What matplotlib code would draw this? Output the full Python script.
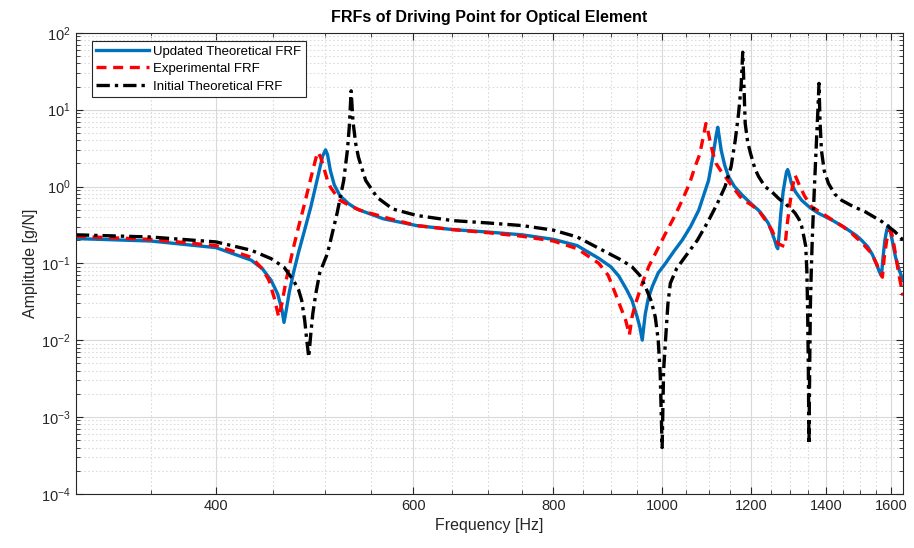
import numpy as np
import matplotlib.pyplot as plt
from matplotlib.ticker import FixedLocator, NullFormatter, LogLocator

plt.rcParams['font.family'] = ['Liberation Sans', 'DejaVu Sans']

# Updated theoretical FRF (frequency [Hz], amplitude [g/N])
upd_freq = [300, 350, 400, 430, 440, 448, 454, 458, 460, 462, 465, 469, 474, 479, 486,
            493, 498, 501, 503, 506, 510, 516, 525, 534, 564, 604, 650, 700, 750, 800,
            840, 878, 900, 915, 930, 940, 950, 955, 960, 963, 966, 972, 980, 992, 1007,
            1025, 1042, 1060, 1078, 1090, 1100, 1107, 1112, 1117, 1121, 1124, 1129, 1137,
            1146, 1160, 1178, 1200, 1219, 1233, 1244, 1252, 1260, 1265, 1268, 1271, 1276,
            1282, 1287, 1291, 1294, 1298, 1304, 1315, 1332, 1355, 1378, 1420, 1456, 1490,
            1506, 1525, 1540, 1552, 1562, 1569, 1574, 1580, 1586, 1591, 1597, 1605, 1615,
            1628, 1640]
upd_amp = [0.21, 0.195, 0.16, 0.11, 0.085, 0.06, 0.04, 0.025, 0.017, 0.024, 0.042,
           0.075, 0.14, 0.245, 0.54, 1.32, 2.5, 3.0, 2.6, 1.6, 1.05, 0.76, 0.6, 0.51,
           0.38, 0.31, 0.275, 0.255, 0.235, 0.205, 0.17, 0.116, 0.09, 0.068, 0.045,
           0.033, 0.02, 0.015, 0.010, 0.015, 0.022, 0.035, 0.050, 0.075, 0.10, 0.145,
           0.20, 0.30, 0.49, 0.8, 1.2, 2.0, 2.95, 4.5, 5.9, 4.6, 2.95, 1.9, 1.35, 1.0,
           0.78, 0.6, 0.49, 0.4, 0.33, 0.26, 0.20, 0.165, 0.155, 0.22, 0.45, 0.85, 1.2,
           1.55, 1.66, 1.45, 1.1, 0.85, 0.66, 0.53, 0.45, 0.36, 0.29, 0.23, 0.20, 0.165,
           0.13, 0.10, 0.078, 0.069, 0.12, 0.2, 0.27, 0.31, 0.27, 0.19, 0.12, 0.08, 0.06]

# Experimental FRF
exp_freq = [300, 350, 400, 430, 440, 446, 451, 455, 458, 462, 469, 474, 479, 484, 488,
            491, 493, 496, 499, 503, 506, 511, 516, 527, 538, 555, 572, 604, 650, 700,
            750, 800, 840, 878, 895, 908, 920, 928, 935, 940, 947, 960, 973, 990, 1007,
            1025, 1042, 1058, 1070, 1080, 1085, 1090, 1094, 1098, 1103, 1110, 1117, 1128,
            1138, 1158, 1178, 1200, 1219, 1237, 1253, 1262, 1269, 1280, 1287, 1292, 1299,
            1306, 1314, 1320, 1327, 1340, 1358, 1385, 1417, 1450, 1476, 1510, 1537, 1555,
            1565, 1572, 1578, 1586, 1593, 1600, 1607, 1615, 1625, 1640]
exp_amp = [0.225, 0.205, 0.17, 0.12, 0.085, 0.06, 0.035, 0.02, 0.03, 0.06, 0.16, 0.3,
           0.54, 1.0, 1.62, 2.3, 2.8, 2.4, 1.78, 1.2, 0.98, 0.8, 0.66, 0.56, 0.49, 0.43,
           0.38, 0.31, 0.275, 0.25, 0.225, 0.195, 0.155, 0.10, 0.07, 0.041, 0.025, 0.018,
           0.0117, 0.02, 0.030, 0.055, 0.091, 0.15, 0.245, 0.4, 0.66, 1.1, 1.82, 2.6,
           3.6, 5.0, 6.6, 5.5, 4.0, 2.7, 2.0, 1.6, 1.35, 0.95, 0.69, 0.58, 0.49, 0.36,
           0.27, 0.21, 0.18, 0.17, 0.165, 0.3, 0.55, 0.95, 1.4, 1.2, 1.0, 0.75, 0.55,
           0.46, 0.37, 0.3, 0.245, 0.18, 0.135, 0.095, 0.075, 0.066, 0.12, 0.2, 0.26,
           0.27, 0.2, 0.13, 0.075, 0.038]

# Initial theoretical FRF
ini_freq = [300, 350, 400, 430, 448, 460, 469, 474, 477, 480, 482, 484, 486, 488, 491,
            495, 503, 513, 520, 524, 526, 528, 530, 533, 536, 544, 557, 575, 604, 650,
            700, 750, 800, 840, 878, 900, 920, 940, 955, 966, 978, 986, 992, 996, 1000,
            1003, 1007, 1012, 1017, 1030, 1049, 1075, 1100, 1120, 1138, 1152, 1162, 1170,
            1176, 1180, 1183, 1186, 1192, 1199, 1210, 1219, 1235, 1253, 1270, 1287, 1300,
            1314, 1325, 1332, 1338, 1343, 1346, 1348, 1350, 1352, 1354, 1356, 1358, 1361,
            1364, 1368, 1373, 1377, 1380, 1383, 1387, 1395, 1407, 1425, 1446, 1480, 1517,
            1570, 1612, 1640]
ini_amp = [0.235, 0.22, 0.19, 0.148, 0.115, 0.089, 0.060, 0.045, 0.033, 0.018, 0.010,
           0.006, 0.012, 0.022, 0.04, 0.075, 0.135, 0.45, 1.2, 3.0, 6.0, 17.6, 7.0, 3.6,
           2.4, 1.2, 0.72, 0.51, 0.42, 0.36, 0.335, 0.31, 0.27, 0.22, 0.157, 0.13, 0.11,
           0.09, 0.07, 0.05, 0.032, 0.02, 0.01, 0.0037, 0.0004, 0.004, 0.01, 0.03, 0.055,
           0.085, 0.123, 0.2, 0.36, 0.6, 1.0, 1.8, 4.0, 9.0, 20.0, 56.0, 20.0, 6.6, 3.8,
           2.7, 1.7, 1.35, 1.0, 0.85, 0.7, 0.6, 0.53, 0.45, 0.37, 0.30, 0.22, 0.166,
           0.08, 0.028, 0.005, 0.00044, 0.005, 0.03, 0.07, 0.2, 0.45, 1.2, 4.0, 10.0,
           22.0, 7.0, 2.95, 1.6, 1.1, 0.8, 0.66, 0.55, 0.47, 0.35, 0.26, 0.20]

major_ticks = [400, 600, 800, 1000, 1200, 1400, 1600]

fig = plt.figure(figsize=(9.14, 5.48), dpi=100)
ax = fig.add_axes([0.083, 0.099, 0.905, 0.841])

ax.plot(upd_freq, upd_amp, color='#0072BD', lw=2.4, label='Updated Theoretical FRF')
ax.plot(exp_freq, exp_amp, color='#FF0000', lw=2.4, ls=(0, (3, 2)), label='Experimental FRF')
ax.plot(ini_freq, ini_amp, color='black', lw=2.4, ls=(0, (4, 1.5, 1, 1.5)),
        label='Initial Theoretical FRF')

ax.set_xscale('log')
ax.set_yscale('log')
ax.set_xlim(300, 1640)
ax.set_ylim(1e-4, 1e2)

ax.set_xticks(major_ticks, [str(t) for t in major_ticks])
ax.xaxis.set_minor_locator(FixedLocator(np.arange(300, 1650, 50)))
ax.xaxis.set_minor_formatter(NullFormatter())
ax.yaxis.set_major_locator(LogLocator(base=10, numticks=10))
ax.yaxis.set_minor_locator(LogLocator(base=10, subs=np.arange(2, 10), numticks=20))
ax.yaxis.set_minor_formatter(NullFormatter())

ax.grid(True, which='major', color='#d9d9d9', lw=0.8, ls='-')
ax.grid(True, which='minor', color='#dcdcdc', lw=0.8, ls=(0, (1.5, 2)))
ax.set_axisbelow(True)

ax.tick_params(which='both', direction='in', top=True, right=True, colors='#262626',
               labelsize=10.5)
ax.tick_params(which='major', length=5)
ax.tick_params(which='minor', length=3, labelbottom=False, labelleft=False)
for s in ax.spines.values():
    s.set_color('#262626')
    s.set_linewidth(0.8)

ax.set_xlabel('Frequency [Hz]', fontsize=11.5, color='#262626', labelpad=4)
ax.set_ylabel('Amplitude [g/N]', fontsize=11.5, color='#262626', labelpad=2)
ax.set_title('FRFs of Driving Point for Optical Element', fontsize=11.5,
             fontweight='bold', color='black', pad=8)

leg = ax.legend(loc='upper left', bbox_to_anchor=(0.019, 0.983), fontsize=9.5,
                handlelength=4.0, fancybox=False, framealpha=1, edgecolor='#262626',
                borderpad=0.35, labelspacing=0.4, handletextpad=0.3, borderaxespad=0)
leg.get_frame().set_linewidth(0.8)

fig.savefig('out.png', dpi=100)
